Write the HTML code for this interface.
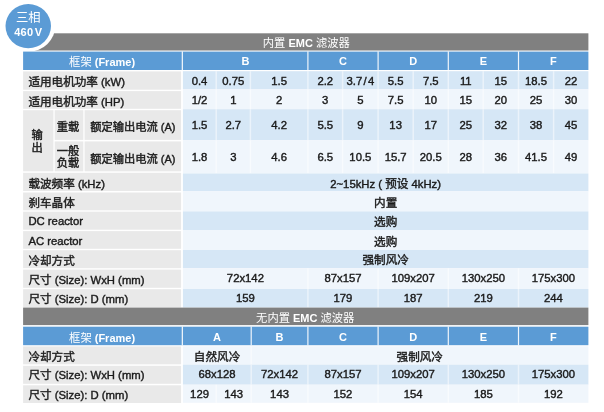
<!DOCTYPE html>
<html><head><meta charset="utf-8"><title>spec</title>
<style>
html,body{margin:0;padding:0;background:#fff}
body{width:604px;height:412px;position:relative;overflow:hidden;font-family:"Liberation Sans","Noto Sans CJK SC",sans-serif;font-size:11.3px;color:#1a1a1a;-webkit-text-stroke:0.4px currentColor}
#bg{position:absolute;left:0;top:0}
#tx{position:absolute;left:0;top:0;width:604px;height:412px;will-change:transform}
.t{position:absolute;box-sizing:border-box;display:flex;align-items:center;white-space:pre;padding-top:1.3px}
.c{font-size:1.027em;font-family:"Liberation Sans","Noto Sans CJK SC",sans-serif}
.lbl{padding-left:5.3px}
.d,.hdr,.gray{justify-content:center;text-align:center}
.hdr,.gray,.circle{color:#fff;-webkit-text-stroke:0}
.hdr{font-size:11px;padding-top:1.4px}
.gray{font-size:11px;padding-top:0.6px}
.vert{line-height:12.5px}
i{font-style:normal;margin:0 1.3px}
.sm{font-size:11px;padding-top:2.8px;padding-left:0}
.sm2{font-size:11px;padding-top:1.8px;padding-right:2px}
.circle{position:absolute;left:5.5px;top:4.1px;width:45.5px;height:44px;text-align:center}
.circle .l1{position:absolute;left:0;right:0;top:7.7px;font-size:12px;line-height:12px}
.circle .l2{position:absolute;left:0;right:0;top:22.4px;font-size:11px;font-weight:bold;line-height:12px;letter-spacing:.2px}
</style></head><body>
<svg id="bg" width="604" height="412" viewBox="0 0 604 412">
<rect x="23.10" y="33.30" width="565.30" height="17.20" fill="#808080"/>
<ellipse cx="28.25" cy="25.2" rx="27.2" ry="26.5" fill="#fff"/>
<ellipse cx="28.25" cy="26.1" rx="22.75" ry="22.1" fill="#5b9bd5"/>
<rect x="23.10" y="51.60" width="565.30" height="18.40" fill="#5b9bd5"/>
<rect x="181.70" y="51.40" width="1.30" height="18.80" fill="rgba(255,255,255,.88)"/>
<rect x="307.30" y="51.40" width="1.20" height="18.80" fill="rgba(255,255,255,.9)"/>
<rect x="377.50" y="51.40" width="1.20" height="18.80" fill="rgba(255,255,255,.9)"/>
<rect x="447.70" y="51.40" width="1.20" height="18.80" fill="rgba(255,255,255,.9)"/>
<rect x="517.90" y="51.40" width="1.20" height="18.80" fill="rgba(255,255,255,.9)"/>
<rect x="23.10" y="71.40" width="158.00" height="18.30" fill="#e9e9e9"/>
<rect x="182.90" y="71.20" width="405.50" height="18.20" fill="#d6e7f6"/>
<rect x="215.45" y="71.20" width="1.50" height="18.20" fill="rgba(255,255,255,.5)"/>
<rect x="249.65" y="71.20" width="1.50" height="18.20" fill="rgba(255,255,255,.5)"/>
<rect x="307.15" y="71.20" width="1.50" height="18.20" fill="rgba(255,255,255,.5)"/>
<rect x="341.85" y="71.20" width="1.50" height="18.20" fill="rgba(255,255,255,.5)"/>
<rect x="377.35" y="71.20" width="1.50" height="18.20" fill="rgba(255,255,255,.5)"/>
<rect x="412.45" y="71.20" width="1.50" height="18.20" fill="rgba(255,255,255,.5)"/>
<rect x="447.55" y="71.20" width="1.50" height="18.20" fill="rgba(255,255,255,.5)"/>
<rect x="482.45" y="71.20" width="1.50" height="18.20" fill="rgba(255,255,255,.5)"/>
<rect x="517.75" y="71.20" width="1.50" height="18.20" fill="rgba(255,255,255,.5)"/>
<rect x="552.85" y="71.20" width="1.50" height="18.20" fill="rgba(255,255,255,.5)"/>
<rect x="23.10" y="91.10" width="158.00" height="17.70" fill="#e9e9e9"/>
<rect x="182.90" y="89.40" width="405.50" height="19.80" fill="#f0f6fc"/>
<rect x="215.45" y="89.40" width="1.50" height="19.80" fill="rgba(255,255,255,.5)"/>
<rect x="249.65" y="89.40" width="1.50" height="19.80" fill="rgba(255,255,255,.5)"/>
<rect x="307.15" y="89.40" width="1.50" height="19.80" fill="rgba(255,255,255,.5)"/>
<rect x="341.85" y="89.40" width="1.50" height="19.80" fill="rgba(255,255,255,.5)"/>
<rect x="377.35" y="89.40" width="1.50" height="19.80" fill="rgba(255,255,255,.5)"/>
<rect x="412.45" y="89.40" width="1.50" height="19.80" fill="rgba(255,255,255,.5)"/>
<rect x="447.55" y="89.40" width="1.50" height="19.80" fill="rgba(255,255,255,.5)"/>
<rect x="482.45" y="89.40" width="1.50" height="19.80" fill="rgba(255,255,255,.5)"/>
<rect x="517.75" y="89.40" width="1.50" height="19.80" fill="rgba(255,255,255,.5)"/>
<rect x="552.85" y="89.40" width="1.50" height="19.80" fill="rgba(255,255,255,.5)"/>
<rect x="182.90" y="109.20" width="405.50" height="31.10" fill="#d6e7f6"/>
<rect x="215.45" y="109.20" width="1.50" height="31.10" fill="rgba(255,255,255,.5)"/>
<rect x="249.65" y="109.20" width="1.50" height="31.10" fill="rgba(255,255,255,.5)"/>
<rect x="307.15" y="109.20" width="1.50" height="31.10" fill="rgba(255,255,255,.5)"/>
<rect x="341.85" y="109.20" width="1.50" height="31.10" fill="rgba(255,255,255,.5)"/>
<rect x="377.35" y="109.20" width="1.50" height="31.10" fill="rgba(255,255,255,.5)"/>
<rect x="412.45" y="109.20" width="1.50" height="31.10" fill="rgba(255,255,255,.5)"/>
<rect x="447.55" y="109.20" width="1.50" height="31.10" fill="rgba(255,255,255,.5)"/>
<rect x="482.45" y="109.20" width="1.50" height="31.10" fill="rgba(255,255,255,.5)"/>
<rect x="517.75" y="109.20" width="1.50" height="31.10" fill="rgba(255,255,255,.5)"/>
<rect x="552.85" y="109.20" width="1.50" height="31.10" fill="rgba(255,255,255,.5)"/>
<rect x="182.90" y="140.30" width="405.50" height="33.20" fill="#f0f6fc"/>
<rect x="215.45" y="140.30" width="1.50" height="33.20" fill="rgba(255,255,255,.5)"/>
<rect x="249.65" y="140.30" width="1.50" height="33.20" fill="rgba(255,255,255,.5)"/>
<rect x="307.15" y="140.30" width="1.50" height="33.20" fill="rgba(255,255,255,.5)"/>
<rect x="341.85" y="140.30" width="1.50" height="33.20" fill="rgba(255,255,255,.5)"/>
<rect x="377.35" y="140.30" width="1.50" height="33.20" fill="rgba(255,255,255,.5)"/>
<rect x="412.45" y="140.30" width="1.50" height="33.20" fill="rgba(255,255,255,.5)"/>
<rect x="447.55" y="140.30" width="1.50" height="33.20" fill="rgba(255,255,255,.5)"/>
<rect x="482.45" y="140.30" width="1.50" height="33.20" fill="rgba(255,255,255,.5)"/>
<rect x="517.75" y="140.30" width="1.50" height="33.20" fill="rgba(255,255,255,.5)"/>
<rect x="552.85" y="140.30" width="1.50" height="33.20" fill="rgba(255,255,255,.5)"/>
<rect x="23.10" y="172.80" width="158.00" height="18.20" fill="#e9e9e9"/>
<rect x="182.90" y="173.50" width="405.50" height="17.80" fill="#d6e7f6"/>
<rect x="23.10" y="192.50" width="158.00" height="17.80" fill="#e9e9e9"/>
<rect x="182.90" y="191.30" width="405.50" height="20.10" fill="#f0f6fc"/>
<rect x="23.10" y="211.70" width="158.00" height="18.00" fill="#e9e9e9"/>
<rect x="182.90" y="211.40" width="405.50" height="18.60" fill="#d6e7f6"/>
<rect x="23.10" y="231.10" width="158.00" height="17.70" fill="#e9e9e9"/>
<rect x="182.90" y="230.00" width="405.50" height="20.00" fill="#f0f6fc"/>
<rect x="23.10" y="250.20" width="158.00" height="18.00" fill="#e9e9e9"/>
<rect x="182.90" y="250.00" width="405.50" height="18.20" fill="#d6e7f6"/>
<rect x="23.10" y="269.60" width="158.00" height="18.20" fill="#e9e9e9"/>
<rect x="182.90" y="268.20" width="405.50" height="20.80" fill="#f0f6fc"/>
<rect x="307.15" y="268.20" width="1.50" height="20.80" fill="rgba(255,255,255,.5)"/>
<rect x="377.35" y="268.20" width="1.50" height="20.80" fill="rgba(255,255,255,.5)"/>
<rect x="447.55" y="268.20" width="1.50" height="20.80" fill="rgba(255,255,255,.5)"/>
<rect x="517.75" y="268.20" width="1.50" height="20.80" fill="rgba(255,255,255,.5)"/>
<rect x="23.10" y="289.20" width="158.00" height="18.40" fill="#e9e9e9"/>
<rect x="182.90" y="289.00" width="405.50" height="18.60" fill="#d6e7f6"/>
<rect x="307.15" y="289.00" width="1.50" height="18.60" fill="rgba(255,255,255,.5)"/>
<rect x="377.35" y="289.00" width="1.50" height="18.60" fill="rgba(255,255,255,.5)"/>
<rect x="447.55" y="289.00" width="1.50" height="18.60" fill="rgba(255,255,255,.5)"/>
<rect x="517.75" y="289.00" width="1.50" height="18.60" fill="rgba(255,255,255,.5)"/>
<rect x="23.10" y="110.20" width="30.30" height="61.10" fill="#e9e9e9"/>
<rect x="54.70" y="110.20" width="28.60" height="29.70" fill="#e9e9e9"/>
<rect x="54.70" y="141.40" width="28.60" height="29.90" fill="#e9e9e9"/>
<rect x="84.60" y="110.20" width="96.50" height="29.70" fill="#e9e9e9"/>
<rect x="84.60" y="141.40" width="96.50" height="29.90" fill="#e9e9e9"/>
<rect x="23.10" y="307.60" width="565.30" height="17.50" fill="#808080"/>
<rect x="23.10" y="326.70" width="565.30" height="18.50" fill="#5b9bd5"/>
<rect x="181.70" y="326.50" width="1.30" height="18.90" fill="rgba(255,255,255,.88)"/>
<rect x="250.60" y="326.50" width="1.20" height="18.90" fill="rgba(255,255,255,.9)"/>
<rect x="307.30" y="326.50" width="1.20" height="18.90" fill="rgba(255,255,255,.9)"/>
<rect x="377.50" y="326.50" width="1.20" height="18.90" fill="rgba(255,255,255,.9)"/>
<rect x="447.70" y="326.50" width="1.20" height="18.90" fill="rgba(255,255,255,.9)"/>
<rect x="517.90" y="326.50" width="1.20" height="18.90" fill="rgba(255,255,255,.9)"/>
<rect x="23.10" y="346.40" width="158.00" height="17.90" fill="#e9e9e9"/>
<rect x="182.90" y="346.30" width="405.50" height="18.40" fill="#f0f6fc"/>
<rect x="250.45" y="346.30" width="1.50" height="18.40" fill="rgba(255,255,255,.5)"/>
<rect x="23.10" y="365.80" width="158.00" height="18.00" fill="#e9e9e9"/>
<rect x="182.90" y="364.70" width="405.50" height="20.00" fill="#d6e7f6"/>
<rect x="250.45" y="364.70" width="1.50" height="20.00" fill="rgba(255,255,255,.5)"/>
<rect x="307.15" y="364.70" width="1.50" height="20.00" fill="rgba(255,255,255,.5)"/>
<rect x="377.35" y="364.70" width="1.50" height="20.00" fill="rgba(255,255,255,.5)"/>
<rect x="447.55" y="364.70" width="1.50" height="20.00" fill="rgba(255,255,255,.5)"/>
<rect x="517.75" y="364.70" width="1.50" height="20.00" fill="rgba(255,255,255,.5)"/>
<rect x="23.10" y="385.30" width="158.00" height="17.70" fill="#e9e9e9"/>
<rect x="182.90" y="384.70" width="405.50" height="18.10" fill="#f0f6fc"/>
<rect x="215.45" y="384.70" width="1.50" height="18.10" fill="rgba(255,255,255,.5)"/>
<rect x="250.45" y="384.70" width="1.50" height="18.10" fill="rgba(255,255,255,.5)"/>
<rect x="307.15" y="384.70" width="1.50" height="18.10" fill="rgba(255,255,255,.5)"/>
<rect x="377.35" y="384.70" width="1.50" height="18.10" fill="rgba(255,255,255,.5)"/>
<rect x="447.55" y="384.70" width="1.50" height="18.10" fill="rgba(255,255,255,.5)"/>
<rect x="517.75" y="384.70" width="1.50" height="18.10" fill="rgba(255,255,255,.5)"/>
</svg>
<div id="tx">
<div class="t gray" style="left:23.10px;top:33.30px;width:565.30px;height:17.20px;"><span style="position:relative;left:0.5px"><span><span class="c">内置</span></span> <b>EMC</b> <span><span class="c">滤波器</span></span></span></div>
<div class="circle"><div class="l1"><span><span class="c">三相</span></span></div><div class="l2">460<span style="margin-left:1.5px">V</span></div></div>
<div class="t hdr" style="left:23.10px;top:51.60px;width:158.00px;height:18.40px;"><span><span><span class="c">框架</span></span> <b>(Frame)</b></span></div>
<div class="t hdr" style="left:182.90px;top:51.60px;width:125.00px;height:18.40px;"><b>B</b></div>
<div class="t hdr" style="left:307.90px;top:51.60px;width:70.20px;height:18.40px;"><b>C</b></div>
<div class="t hdr" style="left:378.10px;top:51.60px;width:70.20px;height:18.40px;"><b>D</b></div>
<div class="t hdr" style="left:448.30px;top:51.60px;width:70.20px;height:18.40px;"><b>E</b></div>
<div class="t hdr" style="left:518.50px;top:51.60px;width:69.90px;height:18.40px;"><b>F</b></div>
<div class="t lbl" style="left:23.10px;top:71.40px;width:158.00px;height:18.30px;"><span><span class="c">适用电机功率</span> (kW)</span></div>
<div class="t d" style="left:182.90px;top:71.20px;width:33.30px;height:18.20px;"><span>0.4</span></div>
<div class="t d" style="left:216.20px;top:71.20px;width:34.20px;height:18.20px;"><span>0.75</span></div>
<div class="t d" style="left:250.40px;top:71.20px;width:57.50px;height:18.20px;"><span>1.5</span></div>
<div class="t d" style="left:307.90px;top:71.20px;width:34.70px;height:18.20px;"><span>2.2</span></div>
<div class="t d" style="left:342.60px;top:71.20px;width:35.50px;height:18.20px;"><span>3.7<i>/</i>4</span></div>
<div class="t d" style="left:378.10px;top:71.20px;width:35.10px;height:18.20px;"><span>5.5</span></div>
<div class="t d" style="left:413.20px;top:71.20px;width:35.10px;height:18.20px;"><span>7.5</span></div>
<div class="t d" style="left:448.30px;top:71.20px;width:34.90px;height:18.20px;"><span>11</span></div>
<div class="t d" style="left:483.20px;top:71.20px;width:35.30px;height:18.20px;"><span>15</span></div>
<div class="t d" style="left:518.50px;top:71.20px;width:35.10px;height:18.20px;"><span>18.5</span></div>
<div class="t d" style="left:553.60px;top:71.20px;width:34.80px;height:18.20px;"><span>22</span></div>
<div class="t lbl" style="left:23.10px;top:91.10px;width:158.00px;height:17.70px;"><span><span class="c">适用电机功率</span> (HP)</span></div>
<div class="t d" style="left:182.90px;top:89.40px;width:33.30px;height:19.80px;"><span>1/2</span></div>
<div class="t d" style="left:216.20px;top:89.40px;width:34.20px;height:19.80px;"><span>1</span></div>
<div class="t d" style="left:250.40px;top:89.40px;width:57.50px;height:19.80px;"><span>2</span></div>
<div class="t d" style="left:307.90px;top:89.40px;width:34.70px;height:19.80px;"><span>3</span></div>
<div class="t d" style="left:342.60px;top:89.40px;width:35.50px;height:19.80px;"><span>5</span></div>
<div class="t d" style="left:378.10px;top:89.40px;width:35.10px;height:19.80px;"><span>7.5</span></div>
<div class="t d" style="left:413.20px;top:89.40px;width:35.10px;height:19.80px;"><span>10</span></div>
<div class="t d" style="left:448.30px;top:89.40px;width:34.90px;height:19.80px;"><span>15</span></div>
<div class="t d" style="left:483.20px;top:89.40px;width:35.30px;height:19.80px;"><span>20</span></div>
<div class="t d" style="left:518.50px;top:89.40px;width:35.10px;height:19.80px;"><span>25</span></div>
<div class="t d" style="left:553.60px;top:89.40px;width:34.80px;height:19.80px;"><span>30</span></div>
<div class="t d" style="left:182.90px;top:109.20px;width:33.30px;height:31.10px;"><span>1.5</span></div>
<div class="t d" style="left:216.20px;top:109.20px;width:34.20px;height:31.10px;"><span>2.7</span></div>
<div class="t d" style="left:250.40px;top:109.20px;width:57.50px;height:31.10px;"><span>4.2</span></div>
<div class="t d" style="left:307.90px;top:109.20px;width:34.70px;height:31.10px;"><span>5.5</span></div>
<div class="t d" style="left:342.60px;top:109.20px;width:35.50px;height:31.10px;"><span>9</span></div>
<div class="t d" style="left:378.10px;top:109.20px;width:35.10px;height:31.10px;"><span>13</span></div>
<div class="t d" style="left:413.20px;top:109.20px;width:35.10px;height:31.10px;"><span>17</span></div>
<div class="t d" style="left:448.30px;top:109.20px;width:34.90px;height:31.10px;"><span>25</span></div>
<div class="t d" style="left:483.20px;top:109.20px;width:35.30px;height:31.10px;"><span>32</span></div>
<div class="t d" style="left:518.50px;top:109.20px;width:35.10px;height:31.10px;"><span>38</span></div>
<div class="t d" style="left:553.60px;top:109.20px;width:34.80px;height:31.10px;"><span>45</span></div>
<div class="t d" style="left:182.90px;top:140.30px;width:33.30px;height:33.20px;padding-top:0;padding-bottom:0.7px"><span>1.8</span></div>
<div class="t d" style="left:216.20px;top:140.30px;width:34.20px;height:33.20px;padding-top:0;padding-bottom:0.7px"><span>3</span></div>
<div class="t d" style="left:250.40px;top:140.30px;width:57.50px;height:33.20px;padding-top:0;padding-bottom:0.7px"><span>4.6</span></div>
<div class="t d" style="left:307.90px;top:140.30px;width:34.70px;height:33.20px;padding-top:0;padding-bottom:0.7px"><span>6.5</span></div>
<div class="t d" style="left:342.60px;top:140.30px;width:35.50px;height:33.20px;padding-top:0;padding-bottom:0.7px"><span>10.5</span></div>
<div class="t d" style="left:378.10px;top:140.30px;width:35.10px;height:33.20px;padding-top:0;padding-bottom:0.7px"><span>15.7</span></div>
<div class="t d" style="left:413.20px;top:140.30px;width:35.10px;height:33.20px;padding-top:0;padding-bottom:0.7px"><span>20.5</span></div>
<div class="t d" style="left:448.30px;top:140.30px;width:34.90px;height:33.20px;padding-top:0;padding-bottom:0.7px"><span>28</span></div>
<div class="t d" style="left:483.20px;top:140.30px;width:35.30px;height:33.20px;padding-top:0;padding-bottom:0.7px"><span>36</span></div>
<div class="t d" style="left:518.50px;top:140.30px;width:35.10px;height:33.20px;padding-top:0;padding-bottom:0.7px"><span>41.5</span></div>
<div class="t d" style="left:553.60px;top:140.30px;width:34.80px;height:33.20px;padding-top:0;padding-bottom:0.7px"><span>49</span></div>
<div class="t lbl" style="left:23.10px;top:172.80px;width:158.00px;height:18.20px;"><span><span class="c">载波频率</span> (kHz)</span></div>
<div class="t d" style="left:182.90px;top:173.50px;width:405.50px;height:17.80px;"><span>2~15kHz ( <span class="c">预设</span> 4kHz)</span></div>
<div class="t lbl" style="left:23.10px;top:192.50px;width:158.00px;height:17.80px;"><span><span class="c">刹车晶体</span></span></div>
<div class="t d" style="left:182.90px;top:191.30px;width:405.50px;height:20.10px;"><span><span class="c">内置</span></span></div>
<div class="t lbl" style="left:23.10px;top:211.70px;width:158.00px;height:18.00px;"><span>DC reactor</span></div>
<div class="t d" style="left:182.90px;top:211.40px;width:405.50px;height:18.60px;"><span><span class="c">选购</span></span></div>
<div class="t lbl" style="left:23.10px;top:231.10px;width:158.00px;height:17.70px;"><span>AC reactor</span></div>
<div class="t d" style="left:182.90px;top:230.00px;width:405.50px;height:20.00px;"><span><span class="c">选购</span></span></div>
<div class="t lbl" style="left:23.10px;top:250.20px;width:158.00px;height:18.00px;"><span><span class="c">冷却方式</span></span></div>
<div class="t d" style="left:182.90px;top:250.00px;width:405.50px;height:18.20px;padding-top:0;padding-bottom:0.7px"><span><span class="c">强制风冷</span></span></div>
<div class="t lbl" style="left:23.10px;top:269.60px;width:158.00px;height:18.20px;"><span><span class="c">尺寸</span> (Size): WxH (mm)</span></div>
<div class="t d" style="left:182.90px;top:268.20px;width:125.00px;height:20.80px;padding-top:0;padding-bottom:0.7px"><span>72x142</span></div>
<div class="t d" style="left:307.90px;top:268.20px;width:70.20px;height:20.80px;padding-top:0;padding-bottom:0.7px"><span>87x157</span></div>
<div class="t d" style="left:378.10px;top:268.20px;width:70.20px;height:20.80px;padding-top:0;padding-bottom:0.7px"><span>109x207</span></div>
<div class="t d" style="left:448.30px;top:268.20px;width:70.20px;height:20.80px;padding-top:0;padding-bottom:0.7px"><span>130x250</span></div>
<div class="t d" style="left:518.50px;top:268.20px;width:69.90px;height:20.80px;padding-top:0;padding-bottom:0.7px"><span>175x300</span></div>
<div class="t lbl" style="left:23.10px;top:289.20px;width:158.00px;height:18.40px;padding-top:0;padding-bottom:0.7px"><span><span class="c">尺寸</span> (Size): D (mm)</span></div>
<div class="t d" style="left:182.90px;top:289.00px;width:125.00px;height:18.60px;padding-top:0;padding-bottom:0.7px"><span>159</span></div>
<div class="t d" style="left:307.90px;top:289.00px;width:70.20px;height:18.60px;padding-top:0;padding-bottom:0.7px"><span>179</span></div>
<div class="t d" style="left:378.10px;top:289.00px;width:70.20px;height:18.60px;padding-top:0;padding-bottom:0.7px"><span>187</span></div>
<div class="t d" style="left:448.30px;top:289.00px;width:70.20px;height:18.60px;padding-top:0;padding-bottom:0.7px"><span>219</span></div>
<div class="t d" style="left:518.50px;top:289.00px;width:69.90px;height:18.60px;padding-top:0;padding-bottom:0.7px"><span>244</span></div>
<div class="t d vert sm2" style="left:23.10px;top:109.30px;width:30.30px;height:62.60px;padding-top:2.6px"><div><span><span class="c">输</span></span><br><span><span class="c">出</span></span></div></div>
<div class="t d sm2" style="left:54.60px;top:109.30px;width:28.80px;height:30.80px;"><span><span class="c">重载</span></span></div>
<div class="t d vert sm2" style="left:54.60px;top:141.30px;width:28.80px;height:30.60px;"><div><span><span class="c">一般</span></span><br><span><span class="c">负载</span></span></div></div>
<div class="t d sm" style="left:84.60px;top:109.30px;width:96.50px;height:30.80px;"><span><span class="c">额定输出电流</span> (A)</span></div>
<div class="t d sm" style="left:84.60px;top:141.30px;width:96.50px;height:30.60px;"><span><span class="c">额定输出电流</span> (A)</span></div>
<div class="t gray" style="left:23.10px;top:307.60px;width:565.30px;height:17.50px;"><span style="position:relative;left:-0.5px"><span><span class="c">无内置</span></span> <b>EMC</b> <span><span class="c">滤波器</span></span></span></div>
<div class="t hdr" style="left:23.10px;top:326.70px;width:158.00px;height:18.50px;"><span><span><span class="c">框架</span></span> <b>(Frame)</b></span></div>
<div class="t hdr" style="left:182.90px;top:326.70px;width:68.30px;height:18.50px;"><b>A</b></div>
<div class="t hdr" style="left:251.20px;top:326.70px;width:56.70px;height:18.50px;"><b>B</b></div>
<div class="t hdr" style="left:307.90px;top:326.70px;width:70.20px;height:18.50px;"><b>C</b></div>
<div class="t hdr" style="left:378.10px;top:326.70px;width:70.20px;height:18.50px;"><b>D</b></div>
<div class="t hdr" style="left:448.30px;top:326.70px;width:70.20px;height:18.50px;"><b>E</b></div>
<div class="t hdr" style="left:518.50px;top:326.70px;width:69.90px;height:18.50px;"><b>F</b></div>
<div class="t lbl" style="left:23.10px;top:346.40px;width:158.00px;height:17.90px;"><span><span class="c">冷却方式</span></span></div>
<div class="t d" style="left:182.90px;top:346.30px;width:68.30px;height:18.40px;"><span><span class="c">自然风冷</span></span></div>
<div class="t d" style="left:251.20px;top:346.30px;width:337.20px;height:18.40px;"><span><span class="c">强制风冷</span></span></div>
<div class="t lbl" style="left:23.10px;top:365.80px;width:158.00px;height:18.00px;padding-top:0;padding-bottom:0.7px"><span><span class="c">尺寸</span> (Size): WxH (mm)</span></div>
<div class="t d" style="left:182.90px;top:364.70px;width:68.30px;height:20.00px;padding-top:0;padding-bottom:0.7px"><span>68x128</span></div>
<div class="t d" style="left:251.20px;top:364.70px;width:56.70px;height:20.00px;padding-top:0;padding-bottom:0.7px"><span>72x142</span></div>
<div class="t d" style="left:307.90px;top:364.70px;width:70.20px;height:20.00px;padding-top:0;padding-bottom:0.7px"><span>87x157</span></div>
<div class="t d" style="left:378.10px;top:364.70px;width:70.20px;height:20.00px;padding-top:0;padding-bottom:0.7px"><span>109x207</span></div>
<div class="t d" style="left:448.30px;top:364.70px;width:70.20px;height:20.00px;padding-top:0;padding-bottom:0.7px"><span>130x250</span></div>
<div class="t d" style="left:518.50px;top:364.70px;width:69.90px;height:20.00px;padding-top:0;padding-bottom:0.7px"><span>175x300</span></div>
<div class="t lbl" style="left:23.10px;top:385.30px;width:158.00px;height:17.70px;padding-top:0;padding-bottom:0.7px"><span><span class="c">尺寸</span> (Size): D (mm)</span></div>
<div class="t d" style="left:182.90px;top:384.70px;width:33.30px;height:18.10px;"><span>129</span></div>
<div class="t d" style="left:216.20px;top:384.70px;width:35.00px;height:18.10px;"><span>143</span></div>
<div class="t d" style="left:251.20px;top:384.70px;width:56.70px;height:18.10px;"><span>143</span></div>
<div class="t d" style="left:307.90px;top:384.70px;width:70.20px;height:18.10px;"><span>152</span></div>
<div class="t d" style="left:378.10px;top:384.70px;width:70.20px;height:18.10px;"><span>154</span></div>
<div class="t d" style="left:448.30px;top:384.70px;width:70.20px;height:18.10px;"><span>185</span></div>
<div class="t d" style="left:518.50px;top:384.70px;width:69.90px;height:18.10px;"><span>192</span></div>
</div>
</body></html>
